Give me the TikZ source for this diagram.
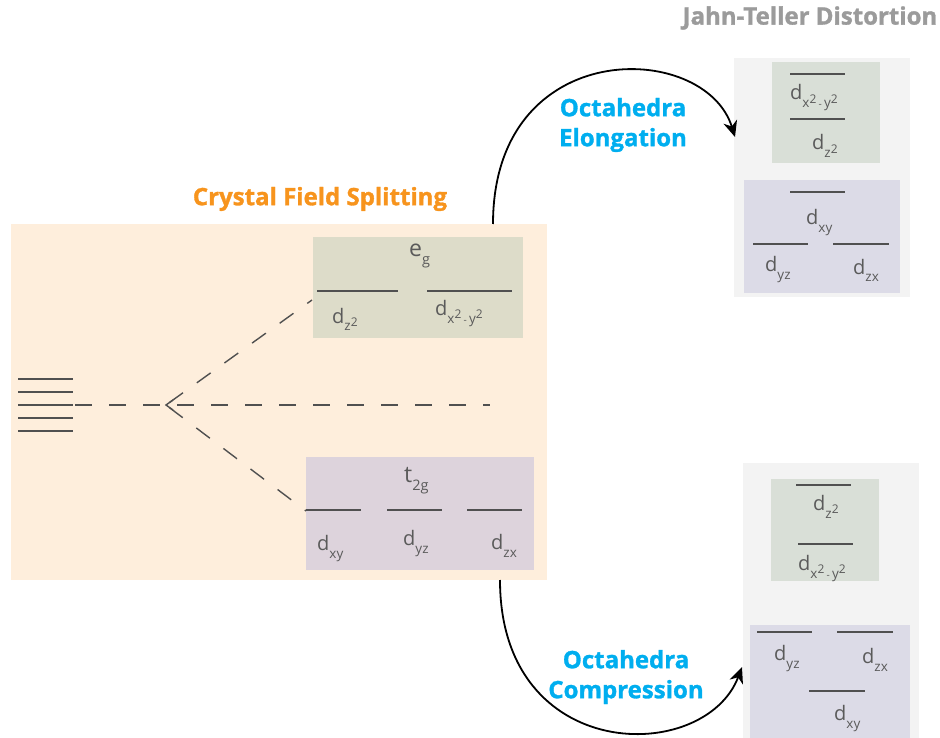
\documentclass[tikz,border=0pt]{standalone}
\usepackage{fontspec}
\setmainfont{Open Sans}
\newfontfamily\heavyfont[BoldFeatures={FakeBold=1.3}]{Open Sans}
\usetikzlibrary{arrows.meta,calc}
\definecolor{peach}{HTML}{FEEEDC}
\definecolor{egfill}{HTML}{DDDCC9}
\definecolor{tfill}{HTML}{DDD3DC}
\definecolor{panel}{HTML}{F3F3F3}
\definecolor{greenR}{HTML}{D9DFD7}
\definecolor{purpR}{HTML}{DCDBE7}
\definecolor{lvl}{HTML}{505050}
\definecolor{txt}{HTML}{5A5A5A}
\definecolor{orangeT}{HTML}{F7941D}
\definecolor{blueT}{HTML}{00AEEF}
\definecolor{grayT}{HTML}{9B9B9B}
\newcommand{\dorb}[1]{{\fontsize{20}{20}\selectfont d}\raisebox{-8pt}{\fontsize{13.5}{13.5}\selectfont #1}}
\newcommand{\twosup}{\raisebox{4.5pt}{\fontsize{12}{12}\selectfont 2}}
\newcommand{\xy}{x\twosup\,{\fontsize{10}{10}\selectfont -}\,y\twosup}
\begin{document}
\begin{tikzpicture}[x=1pt,y=-1pt,
  box/.style={draw=none,inner sep=0,anchor=north west},
  lvline/.style={draw=lvl,line width=2.6pt},
  dlab/.style={inner sep=0,anchor=base west,text=txt},
  dashln/.style={draw=lvl,line width=1.4pt,dash pattern=on 17pt off 17pt},
  title/.style={font=\heavyfont\fontsize{24}{30}\selectfont\bfseries,inner sep=0},
  arcarrow/.style={draw=black,line width=1.8pt,-{Stealth[length=16pt,width=14pt,inset=5pt]}}]
\useasboundingbox (0,0) rectangle (940,738);
% ---- left: crystal field splitting
\node[box,fill=peach,minimum width=536pt,minimum height=356pt] (cfs) at (11,224) {};
\node[box,fill=egfill,minimum width=210pt,minimum height=101pt] (eg) at (313,237) {};
\node[box,fill=tfill,minimum width=228pt,minimum height=113pt] (t2g) at (306,457) {};
\node[title,text=orangeT] (cfst) at (320,199) {Crystal Field Splitting};
% degenerate levels
\foreach \y in {379,392,405,418,431} \draw[lvline] (18,\y) -- (73,\y);
\coordinate (lv) at (75,405);
\coordinate (v) at (166,405);
\coordinate (mend) at (490,405);
\coordinate (egin) at (312,300);
\coordinate (tin) at (306,511);
\draw[dashln] (lv) -- (mend);
\draw[dashln,dash phase=-4pt] (v) -- (egin);
\draw[dashln,dash phase=-4pt] (v) -- (tin);
\draw[draw=lvl,line width=1.4pt] ($(v)+(7,-5)$) -- (v) -- ($(v)+(7,5)$);
% e_g
\draw[lvline] (317,291) -- (398,291);
\draw[lvline] (427,291) -- (512,291);
\node[dlab] (eglab) at (409,257) {{\fontsize{23}{23}\selectfont e}\raisebox{-8pt}{\fontsize{14.5}{14.5}\selectfont g}};
\node[dlab] (dz1) at (332,323) {\dorb{z\twosup}};
\node[dlab] (dx1) at (435,315) {\dorb{\xy}};
% t_2g
\draw[lvline] (306,510) -- (361,510);
\draw[lvline] (387,510) -- (442,510);
\draw[lvline] (467,510) -- (522,510);
\node[dlab] (tlab) at (404,482) {{\fontsize{23}{23}\selectfont t}\raisebox{-8pt}{\fontsize{14.5}{14.5}\selectfont 2g}};
\node[dlab] (dxy1) at (317,550) {\dorb{xy}};
\node[dlab] (dyz1) at (403,545) {\dorb{yz}};
\node[dlab] (dzx1) at (491,549) {\dorb{zx}};
% ---- right top: elongation
\node[title,text=grayT] (jt) at (810,18) {Jahn-Teller Distortion};
\node[box,fill=panel,minimum width=176pt,minimum height=239pt] (p1) at (734,58) {};
\node[box,fill=greenR,minimum width=108pt,minimum height=101pt] (g1) at (772,62) {};
\node[box,fill=purpR,minimum width=156pt,minimum height=113pt] (u1) at (744,180) {};
\draw[lvline] (790,74) -- (845,74);
\draw[lvline] (790,119) -- (845,119);
\draw[lvline] (790,192) -- (845,192);
\draw[lvline] (753,244) -- (808,244);
\draw[lvline] (833,244) -- (889,244);
\node[dlab] (dx2) at (790,100) {\dorb{\xy}};
\node[dlab] (dz2) at (812,150) {\dorb{z\twosup}};
\node[dlab] (dxy2) at (806,225) {\dorb{xy}};
\node[dlab] (dyz2) at (765,272) {\dorb{yz}};
\node[dlab] (dzx2) at (853,274) {\dorb{zx}};
% ---- right bottom: compression
\node[box,fill=panel,minimum width=176pt,minimum height=275pt] (p2) at (743,463) {};
\node[box,fill=greenR,minimum width=108pt,minimum height=102pt] (g2) at (771,479) {};
\node[box,fill=purpR,minimum width=160pt,minimum height=113pt] (u2) at (750,625) {};
\draw[lvline] (796,485) -- (851,485);
\draw[lvline] (798,544) -- (853,544);
\draw[lvline] (757,632) -- (812,632);
\draw[lvline] (837,632) -- (893,632);
\draw[lvline] (809,691) -- (865,691);
\node[dlab] (dz3) at (813,510) {\dorb{z\twosup}};
\node[dlab] (dx3) at (798,570) {\dorb{\xy}};
\node[dlab] (dyz3) at (774,660) {\dorb{yz}};
\node[dlab] (dzx3) at (862,663) {\dorb{zx}};
\node[dlab] (dxy3) at (834,720) {\dorb{xy}};
% ---- arrows
\coordinate (a1s) at (493,224);
\coordinate (a1e) at (735,137);
\coordinate (a2s) at (500,580);
\coordinate (a2e) at (742,667);
\draw[arcarrow] (a1s) .. controls (493,35) and (705,40) .. (a1e);
\draw[arcarrow] (a2s) .. controls (500,765) and (705,765) .. (a2e);
\node[title,text=blueT,align=center] (elong) at (623,125) {Octahedra\\Elongation};
\node[title,text=blueT,align=center] (comp) at (626,677) {Octahedra\\Compression};
\end{tikzpicture}
\end{document}
